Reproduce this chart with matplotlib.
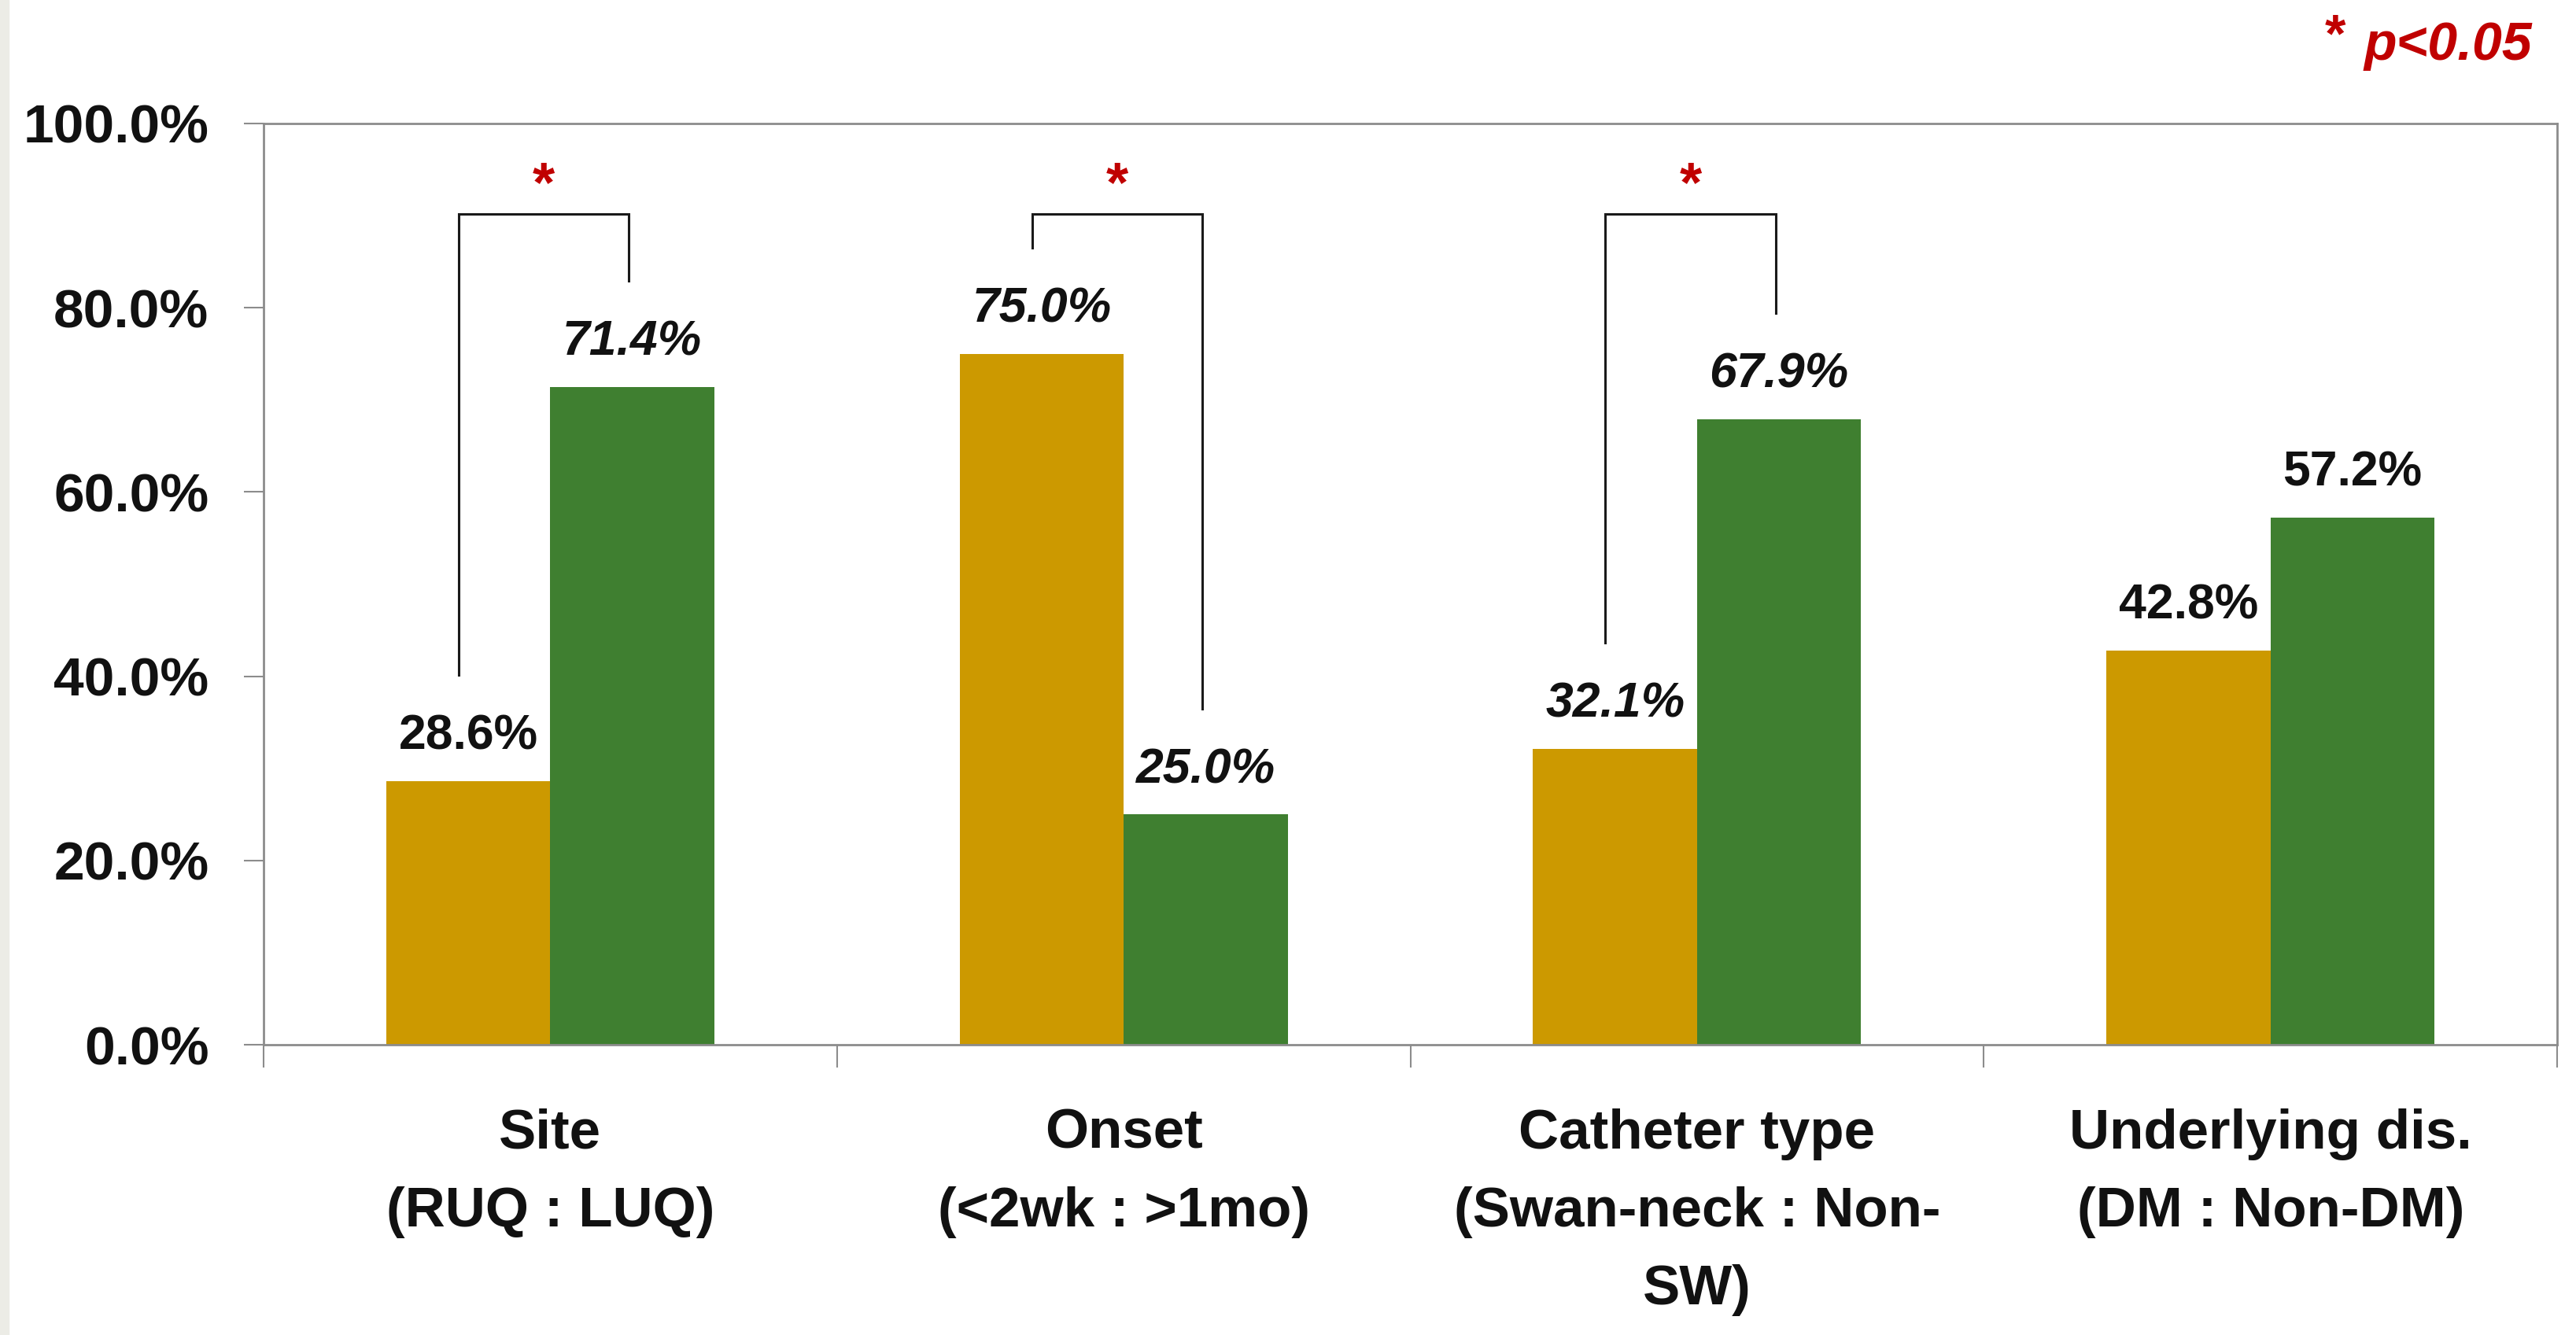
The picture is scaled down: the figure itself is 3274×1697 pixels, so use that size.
import matplotlib
matplotlib.use("Agg")
import matplotlib.pyplot as plt
from matplotlib.patches import Rectangle
from matplotlib.ticker import FixedLocator, FuncFormatter

plt.rcParams['font.family'] = ['Liberation Sans', 'DejaVu Sans']

# data
categories = ["Site\n(RUQ : LUQ)", "Onset\n(<2wk : >1mo)",
              "Catheter type\n(Swan-neck : Non-\nSW)", "Underlying dis.\n(DM : Non-DM)"]
first_vals = [28.6, 75.0, 32.1, 42.8]
second_vals = [71.4, 25.0, 67.9, 57.2]
significant = [True, True, True, False]
y_ticks = [0, 20, 40, 60, 80, 100]

gold = "#CC9900"
green = "#3F7F30"
red = "#C00000"
axis_gray = "#8C8C8C"

fig = plt.figure(figsize=(32.74, 16.97), dpi=100)
fig.patches.append(Rectangle((0, 0), 0.0033, 1, transform=fig.transFigure,
                             color="#ECECE6", zorder=0))
ax = fig.add_axes([0.1023, 0.2174, 0.8904, 0.6901])

w = 0.286
x = list(range(len(categories)))
ax.bar([i - w / 2 for i in x], first_vals, width=w, color=gold, zorder=2)
ax.bar([i + w / 2 for i in x], second_vals, width=w, color=green, zorder=2)

italic_first = [False, True, True, False]
italic_second = [True, True, True, False]
for i in x:
    for xv, v, it in ((i - w / 2, first_vals[i], italic_first[i]),
                      (i + w / 2, second_vals[i], italic_second[i])):
        ax.annotate(f"{v:.1f}%", (xv, v), xytext=(0, 29), textcoords="offset points",
                    ha="center", va="baseline", fontsize=45, fontweight="bold",
                    style="italic" if it else "normal", color="#111111")

# significance brackets
for i in x:
    if not significant[i]:
        continue
    xl, xr = i - 0.16, i + 0.137
    top = 90.2
    ax.plot([xl, xl, xr, xr], [first_vals[i] + 11.5, top, top, second_vals[i] + 11.5],
            color="#1A1A1A", lw=2.2, zorder=3, solid_joinstyle="miter")
    ax.text((xl + xr) / 2, 93.2, "*", ha="center", va="center", fontsize=52,
            fontweight="bold", color=red)

ax.set_xlim(-0.5, len(categories) - 0.5)
ax.set_ylim(0, 100)

ax.yaxis.set_major_locator(FixedLocator(y_ticks))
ax.yaxis.set_major_formatter(FuncFormatter(lambda v, p: f"{v:.1f}%"))
ax.tick_params(axis="y", direction="out", length=18, width=1.5, color=axis_gray,
               pad=32, labelsize=50, labelcolor="#111111")
for lab in ax.get_yticklabels():
    lab.set_fontweight("bold")

ax.set_xticks([i - 0.5 for i in range(len(categories) + 1)])
ax.set_xticklabels([])
ax.set_xticks(x, minor=True)
ax.set_xticklabels(categories, minor=True, fontsize=51, fontweight="bold",
                   color="#111111", linespacing=1.65)
ax.tick_params(axis="x", which="major", direction="out", length=21, width=1.5,
               color=axis_gray)
ax.tick_params(axis="x", which="minor", length=0, pad=58)

for s in ax.spines.values():
    s.set_color(axis_gray)
    s.set_linewidth(2)

fig.text(0.9829, 0.966, "p<0.05", ha="right", va="center", fontsize=49,
         fontweight="bold", style="italic", color=red)
fig.text(0.9105, 0.972, "*", ha="right", va="center", fontsize=49,
         fontweight="bold", color=red)

fig.savefig("out.png", dpi=100)
